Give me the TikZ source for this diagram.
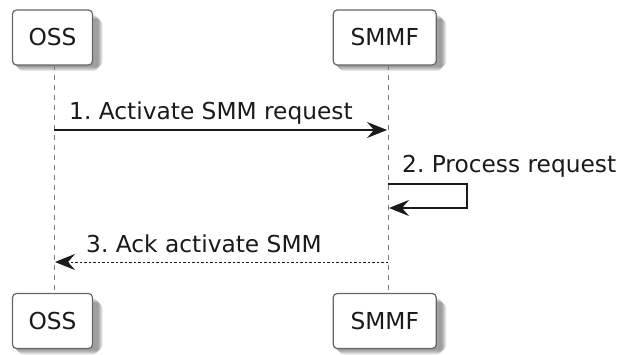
\documentclass[tikz,border=0pt]{standalone}
\usepackage{fontspec}
\setmainfont{DejaVu Sans}
\usetikzlibrary{arrows.meta}
\pgfdeclarelayer{shadowlayer}
\pgfsetlayers{shadowlayer,main}
\definecolor{boxline}{HTML}{666666}
\definecolor{lifegray}{HTML}{7A7A7A}
\definecolor{inkcol}{HTML}{1A1A1A}
\frenchspacing
% soft drop shadow behind a node, built from stacked translucent rectangles
\newcommand{\softshadow}[1]{%
  \begin{pgfonlayer}{shadowlayer}
    \foreach \k in {0,1,2,3,4}{
      \fill[black, opacity=0.09, rounded corners=6pt]
        ([xshift=5.5pt-\k pt, yshift=-5.5pt+\k pt]#1.south west)
        rectangle ([xshift=5.5pt+\k pt, yshift=-5.5pt-\k pt]#1.north east);
    }
  \end{pgfonlayer}}
\begin{document}
\begin{tikzpicture}[x=1pt, y=-1pt,
  every node/.style={font=\fontsize{23.3}{28}\selectfont, text=inkcol},
  participant/.style={draw=boxline, fill=white, line width=1.2pt,
    rounded corners=4pt, minimum height=55pt, inner sep=0pt},
  lifeline/.style={draw=lifegray, line width=1pt, dash pattern=on 5pt off 5pt},
  msg/.style={draw=inkcol, line width=1.4pt,
    -{Stealth[length=20pt, width=16pt, inset=7pt]}},
  reply/.style={msg, line width=1pt, dash pattern=on 2.5pt off 2pt},
  msglabel/.style={anchor=base west, inner sep=0pt}]
\useasboundingbox (0,0) rectangle (623,355);

% participants, top and bottom
\node[participant, minimum width=80pt]  (ossT)  at (52.5,37.5)  {OSS};
\node[participant, minimum width=103pt] (smmfT) at (384.7,37.5) {SMMF};
\node[participant, minimum width=80pt]  (ossB)  at (52.5,321)   {OSS};
\node[participant, minimum width=103pt] (smmfB) at (384.7,321)  {SMMF};
\softshadow{ossT}\softshadow{smmfT}\softshadow{ossB}\softshadow{smmfB}

% lifelines
\coordinate (ossTop)  at (54,65);
\coordinate (ossBot)  at (54,293);
\coordinate (smmfTop) at (388,65);
\coordinate (smmfBot) at (388,293);
\draw[lifeline] (ossTop) -- (ossBot);
\draw[lifeline] (smmfTop) -- (smmfBot);

% message 1
\coordinate (m1a) at (54,130);
\coordinate (m1b) at (387,130);
\draw[msg] (m1a) -- (m1b);
\node[msglabel] (l1) at (69,120) {1. Activate SMM request};

% message 2 (self call)
\coordinate (m2a) at (388,184);
\coordinate (m2c) at (467,184);
\coordinate (m2d) at (467,208);
\coordinate (m2b) at (389,208);
\draw[msg] (m2a) -- (m2c) -- (m2d) -- (m2b);
\node[msglabel] (l2) at (402,173) {2. Process request};

% message 3 (reply)
\coordinate (m3a) at (388,262);
\coordinate (m3b) at (55,262);
\draw[reply] (m3a) -- (m3b);
\node[msglabel] (l3) at (86,252) {3. Ack activate SMM};
\end{tikzpicture}
\end{document}
